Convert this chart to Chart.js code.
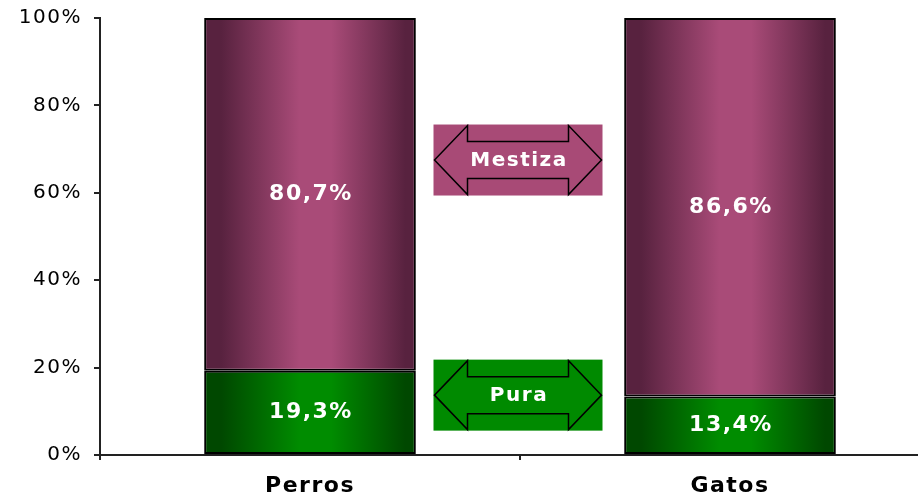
<!DOCTYPE html>
<html>
<head>
<meta charset="utf-8">
<script src="https://cdn.jsdelivr.net/npm/chart.js@4"></script>
<style>
  html, body { margin: 0; padding: 0; background: #fff; overflow: hidden; }
  #wrap { width: 940px; height: 497px; }
</style>
</head>
<body>
<div id="wrap"><canvas id="chart" width="940" height="497"></canvas></div>
<script>
(()=>{
    const categories = ['Perros', 'Gatos'];
    const pura = [19.3, 13.4];
    const mestiza = [80.7, 86.6];
    const yTicks = [0, 20, 40, 60, 80, 100];

    // legend boxes: label, colour, centre value on the y scale
    const legendItems = [
        { label: 'Mestiza', color: '#A84A76', at: 67.5 },
        { label: 'Pura', color: '#008A00', at: 13.7 }
    ];

    const BAR = 0.504;
    const FONT = '"DejaVu Sans", Verdana, sans-serif';

    const fmt = v => v.toFixed(1).replace('.', ',') + '%';

    // horizontal shading across each bar
    const shade = (dark, light) => (ctx) => {
        const chart = ctx.chart;
        const xs = chart.scales.x;
        if (!xs || !chart.chartArea) return light;
        const cx = xs.getPixelForValue(ctx.dataIndex);
        const w = xs.width / chart.data.labels.length * BAR;
        const g = chart.ctx.createLinearGradient(cx - w / 2, 0, cx + w / 2, 0);
        g.addColorStop(0, dark);
        g.addColorStop(0.08, dark);
        g.addColorStop(0.45, light);
        g.addColorStop(0.6, light);
        g.addColorStop(0.95, dark);
        g.addColorStop(1, dark);
        return g;
    };

    const spacing = {
        id: 'spacing',
        beforeDraw(chart) {
            chart.ctx.letterSpacing = '1.5px';
        }
    };

    const barLabels = {
        id: 'barLabels',
        afterDatasetsDraw(chart) {
            const c = chart.ctx;
            c.save();
            c.letterSpacing = '1.5px';
            c.font = 'bold 22px ' + FONT;
            c.fillStyle = '#fff';
            c.textAlign = 'center';
            c.textBaseline = 'middle';
            chart.data.datasets.forEach((ds, i) => {
                chart.getDatasetMeta(i).data.forEach((el, j) => {
                    c.fillText(fmt(ds.data[j]), el.x + 1, (el.y + el.base) / 2);
                });
            });
            c.restore();
        }
    };

    const arrowLegend = {
        id: 'arrowLegend',
        afterDraw(chart) {
            const c = chart.ctx;
            const xs = chart.scales.x, ys = chart.scales.y;
            const cx = (xs.getPixelForValue(0) + xs.getPixelForValue(1)) / 2 - 2;
            const w = 169, h = 71, head = 34, sh = 17;
            legendItems.forEach(it => {
                const cy = ys.getPixelForValue(it.at);
                const x0 = cx - w / 2, y0 = cy - h / 2;
                c.save();
                c.fillStyle = it.color;
                c.fillRect(x0, y0, w, h);
                c.beginPath();
                c.moveTo(x0 + 1, cy);
                c.lineTo(x0 + head, y0 + 1);
                c.lineTo(x0 + head, y0 + sh);
                c.lineTo(x0 + w - head, y0 + sh);
                c.lineTo(x0 + w - head, y0 + 1);
                c.lineTo(x0 + w - 1, cy);
                c.lineTo(x0 + w - head, y0 + h - 1);
                c.lineTo(x0 + w - head, y0 + h - sh);
                c.lineTo(x0 + head, y0 + h - sh);
                c.lineTo(x0 + head, y0 + h - 1);
                c.closePath();
                c.strokeStyle = '#000';
                c.lineWidth = 1.5;
                c.stroke();
                c.letterSpacing = '1.5px';
                c.font = 'bold 20px ' + FONT;
                c.fillStyle = '#fff';
                c.textAlign = 'center';
                c.textBaseline = 'middle';
                c.fillText(it.label, cx + 1, cy + 1);
                c.restore();
            });
        }
    };

    new Chart(document.getElementById('chart'), {
        type: 'bar',
        data: {
            labels: categories,
            datasets: [
                {
                    label: 'Pura',
                    data: pura,
                    backgroundColor: shade('#004800', '#008C00'),
                    borderColor: '#000',
                    borderWidth: 2,
                    borderSkipped: false,
                    barPercentage: BAR,
                    categoryPercentage: 1
                },
                {
                    label: 'Mestiza',
                    data: mestiza,
                    backgroundColor: shade('#58223F', '#A94B78'),
                    borderColor: '#000',
                    borderWidth: 2,
                    borderSkipped: false,
                    barPercentage: BAR,
                    categoryPercentage: 1
                }
            ]
        },
        options: {
            responsive: false,
            animation: false,
            layout: { padding: { top: 18, left: 0, right: 0, bottom: 0 } },
            plugins: {
                legend: { display: false },
                tooltip: { enabled: false }
            },
            scales: {
                x: {
                    stacked: true,
                    afterFit: s => { s.height = 42; },
                    border: { color: '#222', width: 2 },
                    grid: { drawOnChartArea: false, drawTicks: true, tickLength: 5, color: '#222', lineWidth: 2 },
                    ticks: {
                        color: '#000',
                        padding: 13,
                        font: { family: FONT, size: 22, weight: 'bold' }
                    }
                },
                y: {
                    stacked: true,
                    min: 0,
                    max: 100,
                    afterFit: s => { s.width = 100; s.paddingTop = 0; s.paddingBottom = 0; },
                    afterBuildTicks: s => { s.ticks = yTicks.map(v => ({ value: v })); },
                    border: { color: '#222', width: 2 },
                    grid: { drawOnChartArea: false, drawTicks: true, tickLength: 6, color: '#222', lineWidth: 2 },
                    ticks: {
                        color: '#000',
                        padding: 12,
                        font: { family: FONT, size: 20 },
                        callback: v => v + '%'
                    }
                }
            }
        },
        plugins: [spacing, barLabels, arrowLegend]
    });
})()
</script>
</body>
</html>
